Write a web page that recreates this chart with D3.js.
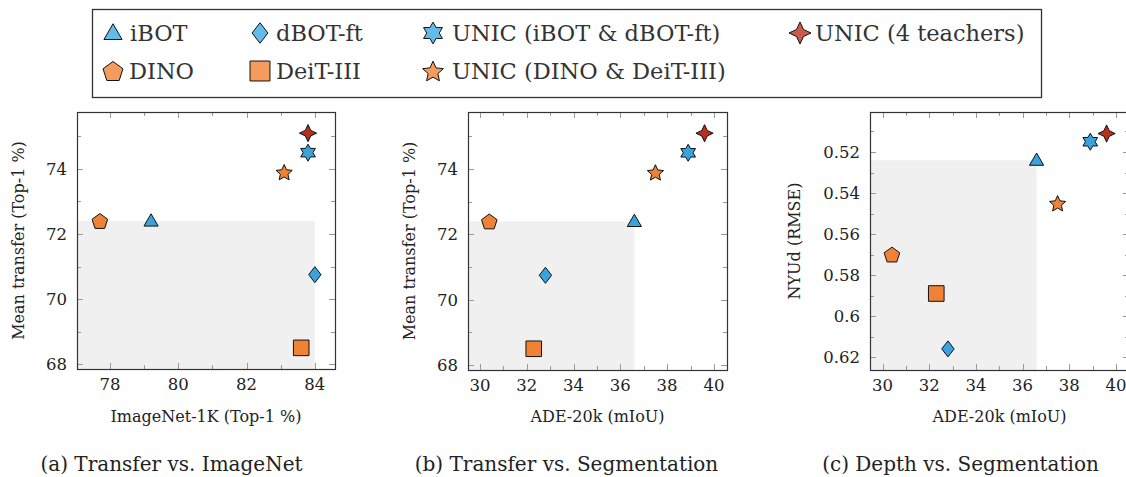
<!DOCTYPE html>
<html><head><meta charset="utf-8">
<script src="https://cdn.jsdelivr.net/npm/d3@7"></script>
<style>body{margin:0;background:#fff}svg{display:block}text{font-family:"DejaVu Serif",serif}</style>
</head><body><svg id="c" width="1126" height="477"></svg>
<script>
// ---- data ----
const methods = ["iBOT","dBOT-ft","UNIC (iBOT & dBOT-ft)","UNIC (4 teachers)","DINO","DeiT-III","UNIC (DINO & DeiT-III)"];
const isTeacher = [true,true,false,false,true,true,false];
const shapes = ["triangle","diamond","star6","star4","pentagon","square","star5"];
const markerColors = ["#3aa3dc","#3aa3dc","#3aa3dc","#b5301e","#f08236","#f08236","#f08236"];
const legendColors = ["#62bbe8","#62bbe8","#62bbe8","#c65b49","#f59b5d","#f59b5d","#f59b5d"];
const imagenetTop1 = [79.2, 84.0, 83.8, 83.8, 77.7, 83.6, 83.1];
const meanTransfer = [72.4, 70.75, 74.5, 75.1, 72.4, 68.5, 73.9];
const ade20k = [36.6, 32.8, 38.9, 39.6, 30.4, 32.3, 37.5];
const nyudRmse = [0.524, 0.616, 0.515, 0.511, 0.570, 0.589, 0.545];
const ticksImagenet = [78,80,82,84], minorImagenet = [79,81,83];
const ticksTransfer = [68,70,72,74], minorTransfer = [69,71,73,75];
const ticksAde = [30,32,34,36,38,40], minorAde = [31,33,35,37,39];
const ticksNyud = [0.52,0.54,0.56,0.58,0.6,0.62], minorNyud = [0.51,0.53,0.55,0.57,0.59,0.61];
const nyudLabels = ["0.52","0.54","0.56","0.58","0.6","0.62"];
const captions = ["(a) Transfer vs. ImageNet","(b) Transfer vs. Segmentation","(c) Depth vs. Segmentation"];

const svg = d3.select("#c");

// ---- shape paths ----
function starPts(n, R, ratio, rot){
  const p=[];
  for(let i=0;i<2*n;i++){
    const r = i%2===0?R:R*ratio;
    const a = -Math.PI/2 + rot + i*Math.PI/n;
    p.push([r*Math.cos(a), r*Math.sin(a)]);
  }
  return p;
}
function poly(pts){return "M"+pts.map(p=>p[0].toFixed(2)+","+p[1].toFixed(2)).join("L")+"Z";}
function shapePath(s, k){
  switch(s){
    case "triangle": { const r=8.2*k; return poly([0,1,2].map(i=>{const a=-Math.PI/2+i*2*Math.PI/3;return [r*Math.cos(a),r*Math.sin(a)+1*k];})); }
    case "diamond": return poly([[0,-8*k],[6.2*k,0],[0,8*k],[-6.2*k,0]]);
    case "pentagon": { const r=8.2*k; return poly([0,1,2,3,4].map(i=>{const a=-Math.PI/2+i*2*Math.PI/5;return [r*Math.cos(a),r*Math.sin(a)+0.8*k];})); }
    case "square": return poly([[-7.8*k,-7.8*k],[7.8*k,-7.8*k],[7.8*k,7.8*k],[-7.8*k,7.8*k]]);
    case "star5": return poly(starPts(5,8.5*k,0.47,0).map(p=>[p[0],p[1]+0.8*k]));
    case "star6": return poly(starPts(6,8.5*k,0.577,0));
    case "star4": return poly(starPts(4,8.6*k,0.45,0));
  }
}

// ---- legend ----
svg.append("rect").attr("x",92.5).attr("y",9.5).attr("width",949).attr("height",88)
  .attr("fill","#fff").attr("stroke","#333").attr("stroke-width",1.3);
const legPos = [[113,33,130,41],[260,33,276,41],[433,33,452,41],[800,33,815,41],[113,71,129,79],[260,71,276,79],[433,71,452,79]];
methods.forEach((m,i)=>{
  const [mx,my,tx,ty]=legPos[i];
  svg.append("path").attr("d",shapePath(shapes[i],1.28)).attr("transform",`translate(${mx},${my})`)
    .attr("fill",legendColors[i]).attr("stroke","#111").attr("stroke-width",1);
  svg.append("text").attr("x",tx).attr("y",ty).attr("font-size",22.5).attr("fill","#333").text(m);
});

// ---- panels ----
const panels = [
  {L:77,R:335,T:112,B:369, xd:[77.03,84.59], yd:[67.85,75.75], xs:imagenetTop1, ys:meanTransfer,
   xt:ticksImagenet, xm:minorImagenet, yt:ticksTransfer, ym:minorTransfer, ytl:ticksTransfer.map(String),
   xlab:"ImageNet-1K (Top-1 %)", ylab:"Mean transfer (Top-1 %)", ylx:24, cap:captions[0], capx:171.5, lowerBetter:false},
  {L:468,R:727,T:112,B:370, xd:[29.49,40.56], yd:[67.85,75.75], xs:ade20k, ys:meanTransfer,
   xt:ticksAde, xm:minorAde, yt:ticksTransfer, ym:minorTransfer, ytl:ticksTransfer.map(String),
   xlab:"ADE-20k (mIoU)", ylab:"Mean transfer (Top-1 %)", ylx:415, cap:captions[1], capx:566.5, lowerBetter:false},
  {L:870,R:1129,T:112,B:370, xd:[29.46,40.56], yd:[0.5005,0.6263], xs:ade20k, ys:nyudRmse,
   xt:ticksAde, xm:minorAde, yt:ticksNyud, ym:minorNyud, ytl:nyudLabels,
   xlab:"ADE-20k (mIoU)", ylab:"NYUd (RMSE)", ylx:800, cap:captions[2], capx:960.5, lowerBetter:true}
];

panels.forEach(P=>{
  const x = d3.scaleLinear().domain(P.xd).range([P.L,P.R]);
  const y = P.lowerBetter ? d3.scaleLinear().domain(P.yd).range([P.T,P.B]) : d3.scaleLinear().domain(P.yd).range([P.B,P.T]);
  const g = svg.append("g");
  // shaded region bounded by best teacher values
  const tx = d3.max(P.xs.filter((v,i)=>isTeacher[i]));
  const tyv = P.ys.filter((v,i)=>isTeacher[i]);
  const ty = P.lowerBetter ? d3.min(tyv) : d3.max(tyv);
  g.append("rect").attr("x",P.L).attr("width",x(tx)-P.L)
    .attr("y",y(ty)).attr("height",P.B-y(ty)).attr("fill","#f0f0f0");
  // ticks
  const tk = g.append("g").attr("stroke","#9a9a9a").attr("stroke-width",1);
  const xtick=(v,len)=>{ const px=Math.round(x(v))+0.5;
    tk.append("line").attr("x1",px).attr("x2",px).attr("y1",P.B).attr("y2",P.B-len);
    tk.append("line").attr("x1",px).attr("x2",px).attr("y1",P.T).attr("y2",P.T+len); };
  const ytick=(v,len)=>{ const py=Math.round(y(v))+0.5;
    tk.append("line").attr("y1",py).attr("y2",py).attr("x1",P.L).attr("x2",P.L+len);
    tk.append("line").attr("y1",py).attr("y2",py).attr("x1",P.R).attr("x2",P.R-len); };
  P.xt.forEach(v=>xtick(v,6)); P.xm.forEach(v=>xtick(v,4));
  P.yt.forEach(v=>ytick(v,6)); P.ym.forEach(v=>ytick(v,4));
  // frame
  g.append("rect").attr("x",P.L+0.5).attr("y",P.T+0.5).attr("width",P.R-P.L).attr("height",P.B-P.T)
    .attr("fill","none").attr("stroke","#333").attr("stroke-width",1.2);
  // tick labels
  P.xt.forEach(v=>g.append("text").attr("x",x(v)).attr("y",P.B+21).attr("text-anchor","middle")
    .attr("font-size",16.5).attr("fill","#222").text(String(v)));
  P.yt.forEach((v,i)=>g.append("text").attr("x",P.L-10).attr("y",y(v)+6).attr("text-anchor","end")
    .attr("font-size",16.5).attr("fill","#222").text(P.ytl[i]));
  // axis labels
  g.append("text").attr("x",(P.L+P.R)/2).attr("y",422).attr("text-anchor","middle")
    .attr("font-size",16).attr("fill","#222").text(P.xlab);
  g.append("text").attr("transform",`translate(${P.ylx},${(P.T+P.B)/2}) rotate(-90)`).attr("text-anchor","middle")
    .attr("font-size",16).attr("fill","#222").text(P.ylab);
  // caption
  svg.append("text").attr("x",P.capx).attr("y",471).attr("text-anchor","middle")
    .attr("font-size",20).attr("fill","#222").text(P.cap);
  // markers
  methods.forEach((m,i)=>{
    g.append("path").attr("d",shapePath(shapes[i],1)).attr("transform",`translate(${x(P.xs[i])},${y(P.ys[i])})`)
      .attr("fill",markerColors[i]).attr("stroke","#111").attr("stroke-width",1);
  });
});
</script></body></html>
